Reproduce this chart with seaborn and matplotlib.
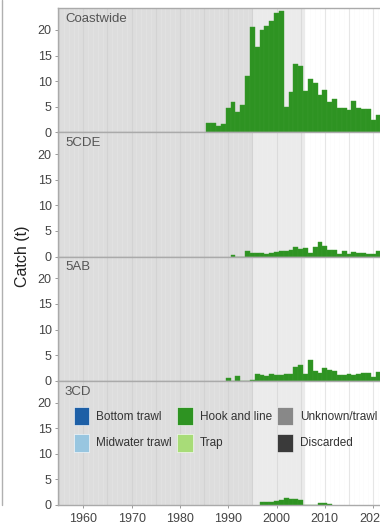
import numpy as np
import pandas as pd
import seaborn as sns
import matplotlib.pyplot as plt
from matplotlib.patches import Patch
from matplotlib.lines import Line2D

# catch (t) by year, hook and line only
years_cw = list(range(1986, 2022))
catch_cw = [1.75, 1.75, 1.25, 1.55, 4.7, 5.9, 4.0, 5.3, 10.9, 20.5, 16.7, 20.0,
            20.8, 21.8, 23.4, 23.6, 5.0, 7.9, 13.3, 13.0, 8.1, 10.4, 9.6, 7.3,
            8.3, 5.9, 6.6, 4.7, 4.7, 4.4, 6.1, 4.7, 4.6, 4.6, 2.4, 3.4]

years_5cde = list(range(1991, 2022))
catch_5cde = [0.25, 0, 0, 1.1, 0.7, 0.7, 0.7, 0.5, 0.65, 0.85, 1.0, 1.1, 1.2,
              1.8, 1.5, 1.75, 0.65, 1.95, 2.8, 2.1, 1.25, 1.2, 0.5, 1.0, 0.5,
              0.9, 0.7, 0.65, 0.5, 0.4, 1.0]

years_5ab = list(range(1990, 2022))
catch_5ab = [0.6, 0, 0.9, 0, 0, 0.1, 1.4, 1.2, 0.9, 1.3, 1.1, 1.2, 1.4, 1.4,
             2.7, 3.1, 1.3, 4.0, 1.8, 1.6, 2.5, 2.1, 1.8, 1.2, 1.2, 1.4, 1.2,
             1.3, 1.5, 1.6, 0.8, 1.7]

years_3cd = list(range(1997, 2012))
catch_3cd = [0.65, 0.5, 0.65, 0.85, 1.0, 1.4, 1.25, 1.1, 1.0, 0, 0, 0, 0.3, 0.3, 0.25]

regions = ['Coastwide', '5CDE', '5AB', '3CD']
gears = ['Bottom trawl', 'Midwater trawl', 'Hook and line', 'Trap', 'Unknown/trawl', 'Discarded']
gear_colors = ['#1d5fa6', '#98c6e0', '#2e9322', '#a8dc78', '#888888', '#3a3a3a']

df = pd.concat([
    pd.DataFrame({'year': years_cw, 'catch': catch_cw, 'region': 'Coastwide'}),
    pd.DataFrame({'year': years_5cde, 'catch': catch_5cde, 'region': '5CDE'}),
    pd.DataFrame({'year': years_5ab, 'catch': catch_5ab, 'region': '5AB'}),
    pd.DataFrame({'year': years_3cd, 'catch': catch_3cd, 'region': '3CD'}),
], ignore_index=True)
df['gear'] = 'Hook and line'

sns.set_style('white')
plt.rcParams['font.family'] = ['Liberation Sans', 'DejaVu Sans']

W, H = 380, 527
fig = plt.figure(figsize=(W / 100, H / 100), dpi=100)

# pixel geometry of the panels
px_left = 58
px_per_year = 4.83
x1960 = 83.3
xmin = 1960 + (px_left - x1960) / px_per_year
xmax = 1960 + (W - x1960) / px_per_year
panel_h = 124.2
base0 = 132.3
ytop = 24.26

border = '#aaaaaa'
hl_color = gear_colors[gears.index('Hook and line')]

axes = []
for i, reg in enumerate(regions):
    bottom_px = base0 + i * panel_h
    ax = fig.add_axes([px_left / W, 1 - bottom_px / H, (W - px_left) / W, panel_h / H])
    ax.set_facecolor('white')
    ax.axvspan(xmin - 1, 1995.2, color='#dddddd', lw=0, zorder=0)
    ax.axvspan(1995.2, 2006, color='#ebebeb', lw=0, zorder=0)
    for yr in range(1950, 2025):
        if yr % 5 == 0:
            ax.axvline(yr, color='#c8c8c8', lw=0.8, alpha=0.45, zorder=0.5)
        else:
            ax.axvline(yr, color='#f4f4f4', lw=0.5, alpha=0.3, zorder=0.5)

    sub = df[df['region'] == reg]
    sns.histplot(data=sub, x='year', weights='catch', discrete=True, ax=ax,
                 color=hl_color, alpha=1, edgecolor='#3a9a2e', linewidth=0.3,
                 zorder=2)

    ax.set_xlim(xmin, xmax)
    ax.set_ylim(0, ytop)
    ax.set_yticks([0, 5, 10, 15, 20])
    ax.set_xticks([1960, 1970, 1980, 1990, 2000, 2010, 2020])
    ax.set_xlabel('')
    ax.set_ylabel('')
    ax.tick_params(axis='y', left=True, length=2.5, width=0.7, color='#999999',
                   labelsize=9, labelcolor='#444444', pad=2)
    if i == len(regions) - 1:
        ax.tick_params(axis='x', bottom=True, length=2.5, width=0.7, color='#999999',
                       labelsize=9, labelcolor='#444444', pad=3)
    else:
        ax.tick_params(axis='x', bottom=False, labelbottom=False)
    for s in ['top', 'left', 'bottom']:
        ax.spines[s].set_color(border)
        ax.spines[s].set_linewidth(1.0)
        ax.spines[s].set_zorder(3)
    ax.spines['right'].set_visible(False)
    ax.annotate(reg, xy=(0, 1), xycoords='axes fraction', xytext=(5, -3.5),
                textcoords='offset points', ha='left', va='top',
                fontsize=9.5, color='#555555')
    axes.append(ax)

# legend in the last panel
handles = [Patch(facecolor=c, edgecolor='white', linewidth=0.4) for c in gear_colors]
fig.legend(handles, gears, ncol=3, loc='upper left',
           bbox_to_anchor=(74 / W, 1 - 407 / H), bbox_transform=fig.transFigure,
           frameon=False, fontsize=8.5, handlelength=1.3, handleheight=1.95,
           handletextpad=0.6, columnspacing=0.45, labelspacing=0.75,
           borderpad=0, borderaxespad=0, labelcolor='#333333')

fig.text(22.5 / W, 1 - 256 / H, 'Catch (t)', rotation=90, ha='center', va='center',
         fontsize=11.5, color='#222222')
fig.add_artist(Line2D([1.5 / W, 1.5 / W], [1 - 505 / H, 1], color='#b0b0b0', lw=1))

fig.savefig('out.png', dpi=100)
